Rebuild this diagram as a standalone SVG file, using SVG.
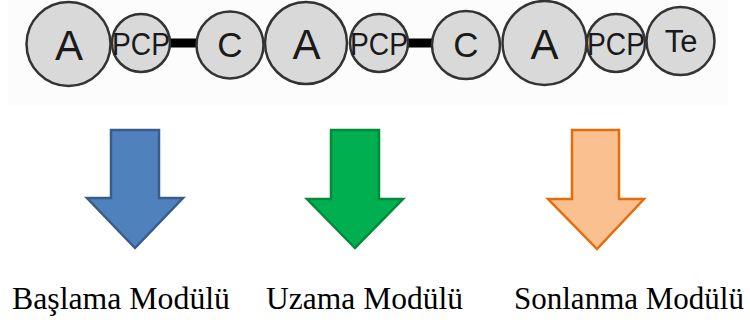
<svg xmlns="http://www.w3.org/2000/svg" width="750" height="324" viewBox="0 0 750 324">
  <style>
    .dom { fill: #d9d9d9; stroke: #333333; stroke-width: 2.5; }
    .lbl { font-family: "Liberation Sans", Arial, sans-serif; fill: #1a1a1a; text-anchor: middle; }
    .big { font-size: 42px; }
    .mid { font-size: 35px; }
    .sm { font-size: 31px; }
    .cap { font-family: "Liberation Serif", "Times New Roman", serif; font-size: 31px; fill: #000000; }
    .link { stroke: #000000; stroke-width: 9; }
  </style>

  <!-- faint backdrop of the domain strip -->
  <rect x="8" y="0" width="720" height="105" fill="#fcfcfc"/>

  <g id="connectors">
    <line class="link" x1="168" y1="43" x2="199" y2="43"/>
    <line class="link" x1="406" y1="43" x2="435" y2="43"/>
  </g>

  <g id="A1"><circle class="dom" cx="68.5" cy="44" r="42"/><text class="lbl big" x="69" y="60">A</text></g>
  <g id="PCP1"><circle class="dom" cx="141" cy="43" r="29"/><text class="lbl sm" x="141" y="55" textLength="58" lengthAdjust="spacingAndGlyphs">PCP</text></g>
  <g id="C1"><circle class="dom" cx="230" cy="45" r="33.5"/><text class="lbl mid" x="230" y="57">C</text></g>
  <g id="A2"><circle class="dom" cx="306" cy="43" r="41"/><text class="lbl big" x="306.5" y="59">A</text></g>
  <g id="PCP2"><circle class="dom" cx="379" cy="43" r="29"/><text class="lbl sm" x="379" y="55" textLength="58" lengthAdjust="spacingAndGlyphs">PCP</text></g>
  <g id="C2"><circle class="dom" cx="466" cy="45" r="34"/><text class="lbl mid" x="466" y="57">C</text></g>
  <g id="A3"><circle class="dom" cx="544.5" cy="43" r="42"/><text class="lbl big" x="544.5" y="59">A</text></g>
  <g id="PCP3"><circle class="dom" cx="616" cy="43" r="29"/><text class="lbl sm" x="616" y="55" textLength="58" lengthAdjust="spacingAndGlyphs">PCP</text></g>
  <g id="Te"><circle class="dom" cx="680.5" cy="41" r="34"/><text class="lbl sm" x="681" y="52">Te</text></g>

  <!-- module arrows -->
  <g id="arrow-start">
    <polygon points="111,130 159,130 159,198 183,198 135,248 87,198 111,198" fill="#4f81bd" stroke="#385d8a" stroke-width="2.5" stroke-linejoin="miter"/>
  </g>
  <g id="arrow-elong">
    <polygon points="331,130 379,130 379,199 403,199 355,248 307,199 331,199" fill="#00b050" stroke="#008a3a" stroke-width="2.5" stroke-linejoin="miter"/>
  </g>
  <g id="arrow-term">
    <polygon points="572,130 619,130 619,199 644,199 597,249 548,199 572,199" fill="#fac090" stroke="#e46c0a" stroke-width="2.5" stroke-linejoin="miter"/>
  </g>

  <g id="captions">
    <text class="cap" x="12" y="309" textLength="218" lengthAdjust="spacingAndGlyphs">Başlama Modülü</text>
    <text class="cap" x="266" y="309" textLength="197" lengthAdjust="spacingAndGlyphs">Uzama Modülü</text>
    <text class="cap" x="514" y="309" textLength="230" lengthAdjust="spacingAndGlyphs">Sonlanma Modülü</text>
  </g>
</svg>
